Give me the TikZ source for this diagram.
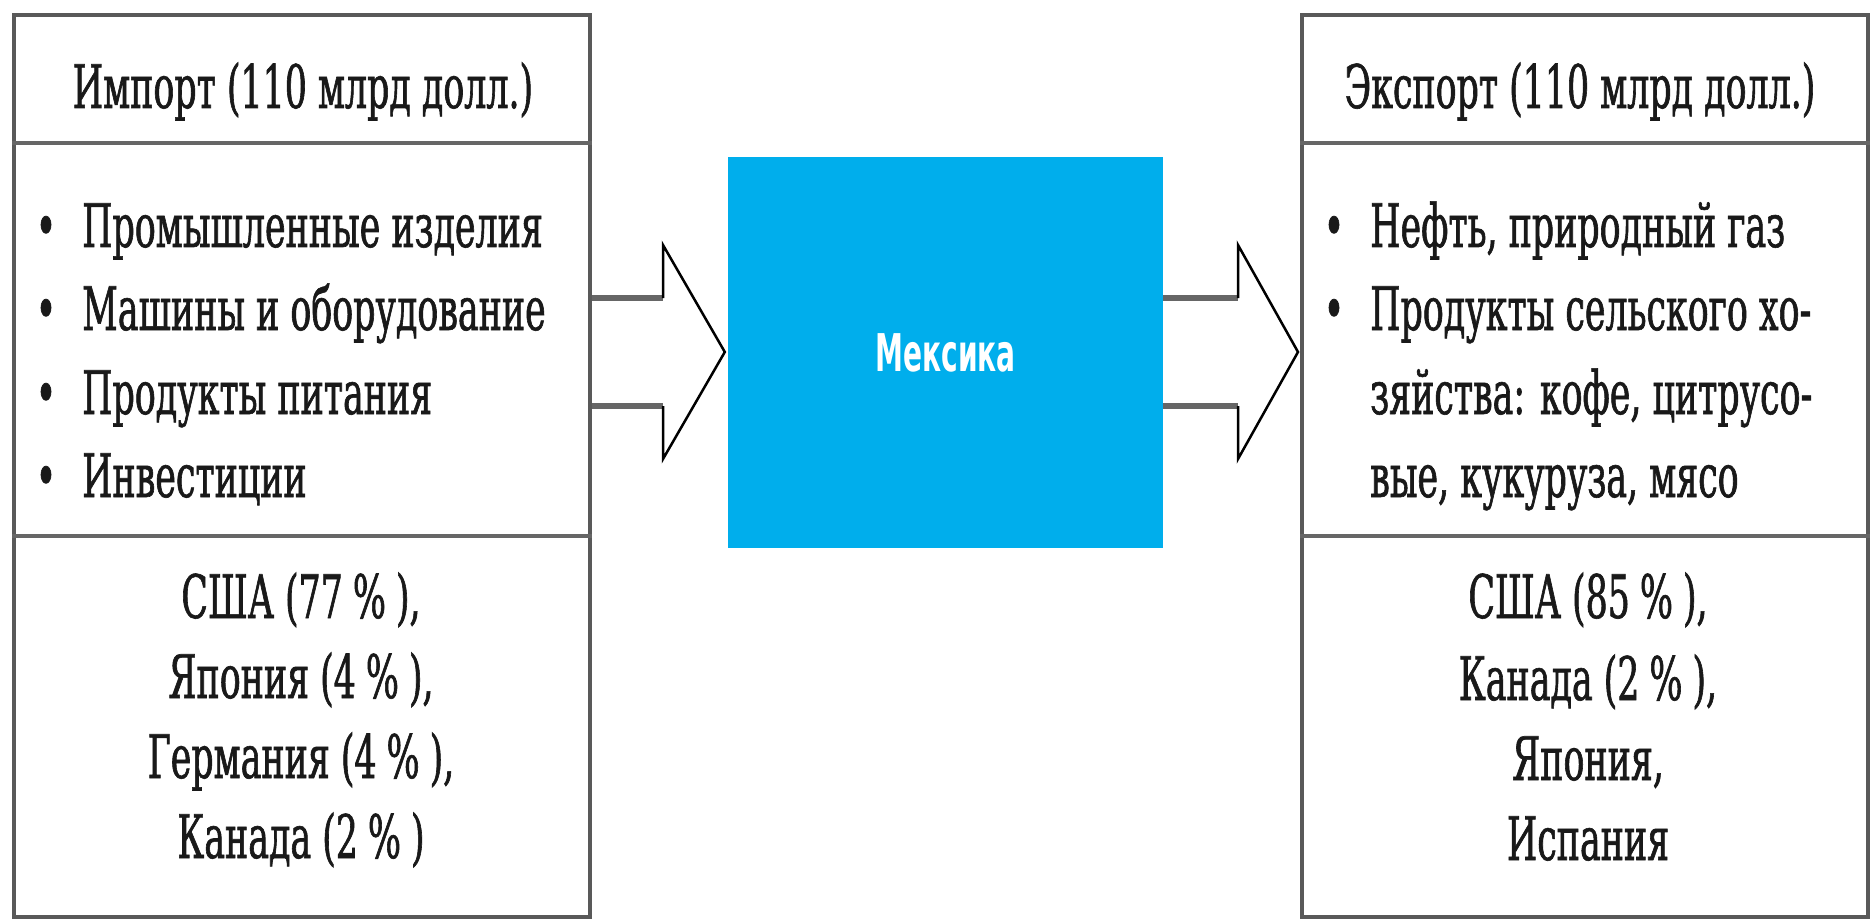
\documentclass[tikz,border=0pt]{standalone}
\usepackage{fontspec}
\usetikzlibrary{calc}
\newfontfamily\sch[FakeStretch=0.58,FakeBold=1]{DejaVu Serif}
\newfontfamily\mexf[FakeStretch=0.6]{DejaVu Sans Condensed}
\definecolor{mexblue}{RGB}{0,174,236}
\begin{document}
\begin{tikzpicture}[x=1pt,y=-1pt,
  frame/.style={draw=black!65,line width=4pt,fill=white,inner sep=0pt},
  sep/.style={draw=black!60,line width=4.5pt},
  txt/.style={font=\sch\fontsize{60}{72}\selectfont,inner sep=0pt,text=black!90},
  shaft/.style={draw=black!60,line width=5.5pt},
  head/.style={draw=black,line width=2.5pt,line join=miter},
]
\useasboundingbox (0,0) rectangle (1871,920);
% boxes
\node[frame,minimum width=576pt,minimum height=902pt] (imp) at (302,466) {};
\node[frame,minimum width=566pt,minimum height=902pt] (exp) at (1585,466) {};
\node[fill=mexblue,inner sep=0pt,minimum width=435pt,minimum height=391pt,
      font=\mexf\bfseries\fontsize{52}{56}\selectfont,text=white] (mex) at (945.5,352.5) {Мексика};
% separators
\coordinate (h1) at (0,143);
\coordinate (h2) at (0,536);
\draw[sep] (imp.west |- h1) -- (imp.east |- h1);
\draw[sep] (imp.west |- h2) -- (imp.east |- h2);
\draw[sep] (exp.west |- h1) -- (exp.east |- h1);
\draw[sep] (exp.west |- h2) -- (exp.east |- h2);
% arrow levels
\coordinate (ua) at (0,298);
\coordinate (da) at (0,406);
\coordinate (mid) at (0,352);
% left arrow
\coordinate (lb1) at (663,298);
\coordinate (lb2) at (663,406);
\draw[shaft] (imp.east |- ua) -- (lb1);
\draw[shaft] (imp.east |- da) -- (lb2);
\draw[head] (lb1) -- (663,245) -- ($(mex.west |- mid)+(-3,0)$) -- (663,459) -- (lb2);
% right arrow
\coordinate (rb1) at (1238,298);
\coordinate (rb2) at (1238,406);
\draw[shaft] (mex.east |- ua) -- (rb1);
\draw[shaft] (mex.east |- da) -- (rb2);
\draw[head] (rb1) -- (1238,245) -- ($(exp.west |- mid)+(-2,0)$) -- (1238,459) -- (rb2);
% left texts
\node[txt,anchor=base] (ih) at (303,108) {Импорт (110 млрд долл.)};
\node[txt,anchor=base] (ib1) at (46,247) {•};
\node[txt,anchor=base west] (it1) at (82,247) {Промышленные изделия};
\node[txt,anchor=base] (ib2) at (46,330) {•};
\node[txt,anchor=base west] (it2) at (82,330) {Машины и оборудование};
\node[txt,anchor=base] (ib3) at (46,414) {•};
\node[txt,anchor=base west] (it3) at (82,414) {Продукты питания};
\node[txt,anchor=base] (ib4) at (46,497) {•};
\node[txt,anchor=base west] (it4) at (82,497) {Инвестиции};
\node[txt,anchor=base] (ic1) at (301,618) {США (77\,\%\,),};
\node[txt,anchor=base] (ic2) at (301,698) {Япония (4\,\%\,),};
\node[txt,anchor=base] (ic3) at (301,778) {Германия (4\,\%\,),};
\node[txt,anchor=base] (ic4) at (301,858) {Канада (2\,\%\,)};
% right texts
\node[txt,anchor=base] (eh) at (1580,108) {Экспорт (110 млрд долл.)};
\node[txt,anchor=base] (eb1) at (1334,247) {•};
\node[txt,anchor=base west] (et1) at (1370,247) {Нефть, природный газ};
\node[txt,anchor=base] (eb2) at (1334,330) {•};
\node[txt,anchor=base west] (et2) at (1370,330) {Продукты сельского хо-};
\node[txt,anchor=base west] (et3) at (1370,414) {зяйства: кофе, цитрусо-};
\node[txt,anchor=base west] (et4) at (1370,497) {вые, кукуруза, мясо};
\node[txt,anchor=base] (ec1) at (1588,618) {США (85\,\%\,),};
\node[txt,anchor=base] (ec2) at (1588,700) {Канада (2\,\%\,),};
\node[txt,anchor=base] (ec3) at (1588,780) {Япония,};
\node[txt,anchor=base] (ec4) at (1588,860) {Испания};
\end{tikzpicture}
\end{document}
